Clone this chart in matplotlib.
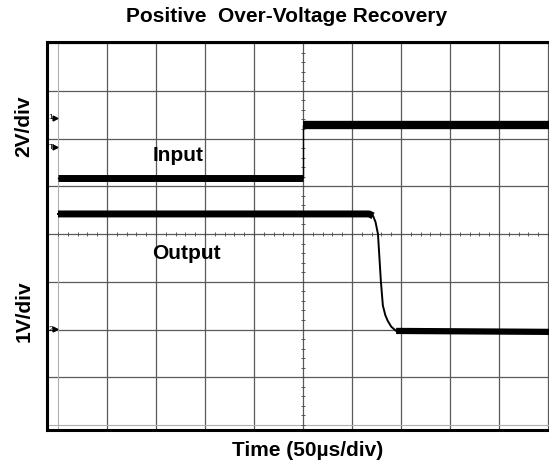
import matplotlib.pyplot as plt
import numpy as np

# scope traces, x in time divisions, y in screen divisions
in_t = [0, 5.0, 5.0, 10.1]
in_v = [5.17, 5.17, 6.28, 6.28]

out_t = [0, 6.35, 6.43, 6.48, 6.51, 6.53, 6.59, 6.63, 6.68, 6.73, 6.80, 6.90, 10.1]
out_v = [4.42, 4.42, 4.38, 4.25, 4.10, 4.0, 3.0, 2.5, 2.3, 2.18, 2.06, 1.97, 1.95]

# channel markers on left edge
marker_labels = ['1', 'T', '2']
marker_levels = [6.43, 5.82, 2.01]

W, H = 549, 474
plt.rcParams['font.family'] = ['Liberation Sans', 'DejaVu Sans']
fig = plt.figure(figsize=(W / 100, H / 100), dpi=100)

# frame from px x=47..552, y=42..430
ax = fig.add_axes([47 / W, (H - 430) / H, (552 - 47) / W, (430 - 42) / H])
ax.set_xlim((47 - 58) / 49, (552 - 58) / 49)
ax.set_ylim((425 - 430) / 47.75, (425 - 42) / 47.75)
ax.set_xticks([])
ax.set_yticks([])
ax.spines['right'].set_visible(False)
for s in ['left', 'top', 'bottom']:
    ax.spines[s].set_linewidth(2.2)

# graticule
for x in range(1, 11):
    ax.axvline(x, color='#5a5a5a', lw=0.9, zorder=1)
for y in range(1, 9):
    ax.axhline(y, color='#5a5a5a', lw=0.9, zorder=1)
ax.axvline(0, color='#b0b0b0', lw=0.8, zorder=1)
ax.axhline(0, color='#b0b0b0', lw=0.8, zorder=1)

# minor ticks on centre lines
mx = np.arange(0, 10.01, 0.2)
ax.plot(mx, np.full_like(mx, 4.0), ls='none', marker='|', ms=3, mew=0.6, color='#444444', zorder=1)
my = np.arange(0, 8.01, 0.2)
ax.plot(np.full_like(my, 5.0), my, ls='none', marker='_', ms=3, mew=0.6, color='#444444', zorder=1)

# input trace
ax.plot(in_t, in_v, color='black', lw=1.0, zorder=3)
ax.plot(in_t[:2], in_v[:2], color='black', lw=5.0, zorder=3, solid_capstyle='butt')
ax.plot(in_t[2:], in_v[2:], color='black', lw=6.0, zorder=3, solid_capstyle='butt')

# output trace
ax.plot(out_t, out_v, color='black', lw=1.4, zorder=3)
ax.plot(out_t[:3], out_v[:3], color='black', lw=5.0, zorder=3, solid_capstyle='butt')
ax.plot(out_t[-2:], out_v[-2:], color='black', lw=4.5, zorder=3, solid_capstyle='butt')

# channel markers
for lab, lev in zip(marker_labels, marker_levels):
    ax.text(-0.14, lev, lab, fontsize=6, ha='center', va='center', zorder=4)
    ax.plot(-0.07, lev, marker='>', ms=3.5, color='black', ls='none', zorder=4, clip_on=False)

ax.text(2.45, 5.65, 'Input', fontsize=15, fontweight='bold', ha='center', va='center', zorder=5)
ax.text(2.62, 3.6, 'Output', fontsize=15, fontweight='bold', ha='center', va='center', zorder=5)

fig.text(286.5 / W, 1 - 17 / H, 'Positive  Over-Voltage Recovery', fontsize=15,
         fontweight='bold', ha='center', va='center')
fig.text(24 / W, 1 - 126 / H, '2V/div', fontsize=15, fontweight='bold',
         rotation=90, ha='center', va='center')
fig.text(24 / W, 1 - 311 / H, '1V/div', fontsize=15, fontweight='bold',
         rotation=90, ha='center', va='center')
fig.text(308 / W, 1 - 451 / H, 'Time (50µs/div)', fontsize=15, fontweight='bold',
         ha='center', va='center')

fig.savefig('out.png', dpi=100)
